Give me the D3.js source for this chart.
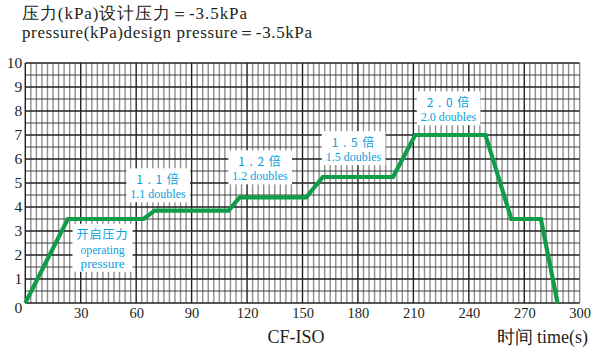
<!DOCTYPE html>
<html>
<head>
<meta charset="utf-8">
<script src="https://cdn.jsdelivr.net/npm/d3@7"></script>
<style>
  body { margin: 0; background: #fff; }
  svg { display: block; }
  text { font-family: "Liberation Serif", "DejaVu Serif", serif; fill: #231f20; }
  .anno text { fill: #0a9fdd; }
  .anno .cn { font-family: "Noto Sans CJK SC", sans-serif; }
</style>
</head>
<body>
<div id="chart"></div>
<script>
// test profile: time (s) -> pressure (kPa)
var times     = [0, 23, 64, 70, 110, 116, 152, 161, 199, 211, 249, 263, 279, 288]
var pressures = [0, 3.5, 3.5, 3.85, 3.85, 4.4, 4.4, 5.25, 5.25, 7, 7, 3.5, 3.5, 0]

var xTicks = [30, 60, 90, 120, 150, 180, 210, 240, 270, 300]
var yTicks = [0, 1, 2, 3, 4, 5, 6, 7, 8, 9, 10]

// callouts: text lines, anchor time and value of the first line
var annoLines = [
  ["开启压力", "operating", "pressure"],
  ["1 . 1 倍", "1.1 doubles"],
  ["1 . 2 倍", "1.2 doubles"],
  ["1 . 5 倍", "1.5 doubles"],
  ["2 . 0 倍", "2.0 doubles"]
]
var annoTime  = [41.8, 71.8, 127, 177.6, 229]
var annoValue = [2.83, 5.14, 5.89, 6.69, 8.35]

var titleCn = "压力(kPa)设计压力＝-3.5kPa"
var titleEn = "pressure(kPa)design pressure＝-3.5kPa"

var width = 600, height = 351
var margin = { top: 63, right: 20.3, bottom: 48, left: 25.3 }

var svg = d3.select("#chart").append("svg")
    .attr("width", width)
    .attr("height", height)

var x = d3.scaleLinear()
    .domain([0, 300])
    .range([margin.left, width - margin.right])

var y = d3.scaleLinear()
    .domain([0, 10])
    .range([height - margin.bottom, margin.top])

var grid = svg.append("g").attr("class", "grid")

// fine vertical lines every 3 s
grid.selectAll(".vminor")
    .data(d3.range(3, 301, 3).filter(function(t){ return t % 30 != 0 || t == 300 }))
  .enter().append("line")
    .attr("x1", function(d){ return x(d) })
    .attr("x2", function(d){ return x(d) })
    .attr("y1", y(0))
    .attr("y2", y(10))
    .attr("stroke", "#8f8f8f")
    .attr("stroke-width", 1.4)

// half-unit horizontal lines
grid.selectAll(".hminor")
    .data(d3.range(0.5, 10, 1))
  .enter().append("line")
    .attr("x1", x(0))
    .attr("x2", x(300))
    .attr("y1", function(d){ return y(d) })
    .attr("y2", function(d){ return y(d) })
    .attr("stroke", "#2a2a2a")
    .attr("stroke-width", 0.9)

// major vertical lines every 30 s
grid.selectAll(".vmajor")
    .data(d3.range(0, 300, 30))
  .enter().append("line")
    .attr("x1", function(d){ return x(d) })
    .attr("x2", function(d){ return x(d) })
    .attr("y1", y(0))
    .attr("y2", y(10))
    .attr("stroke", "#231f20")
    .attr("stroke-width", 1.4)

// integer horizontal lines
grid.selectAll(".hmajor")
    .data(yTicks)
  .enter().append("line")
    .attr("x1", x(0))
    .attr("x2", x(300))
    .attr("y1", function(d){ return y(d) })
    .attr("y2", function(d){ return y(d) })
    .attr("stroke", "#231f20")
    .attr("stroke-width", 1.6)

// axes (labels only)
var xAxis = svg.append("g")
    .attr("transform", "translate(0," + y(0) + ")")
    .call(d3.axisBottom(x).tickValues(xTicks).tickSize(0).tickPadding(5))
xAxis.attr("font-family", null)
xAxis.select(".domain").remove()
xAxis.selectAll("text")
    .attr("font-size", 14.5)
    .attr("fill", null)

var yAxis = svg.append("g")
    .attr("transform", "translate(" + (x(0) - 3) + ",0)")
    .call(d3.axisLeft(y).tickValues(yTicks).tickSize(0).tickPadding(0))
yAxis.attr("font-family", null)
yAxis.select(".domain").remove()
yAxis.selectAll("text")
    .attr("font-size", 15.5)
    .attr("fill", null)
    .attr("dy", function(d){ return d == 0 ? "0.6em" : "0.32em" })
d3.selectAll(".tick line").remove()

// callouts, white boxes behind
var anno = svg.selectAll(".anno")
    .data(annoLines)
  .enter().append("g")
    .attr("class", "anno")
    .attr("transform", function(d, i){ return "translate(" + x(annoTime[i]) + "," + y(annoValue[i]) + ")" })

var bg = anno.append("rect").attr("fill", "#fff")

anno.selectAll("text")
    .data(function(d){ return d })
  .enter().append("text")
    .attr("class", function(d, j){ return j == 0 ? "cn" : "en" })
    .attr("text-anchor", "middle")
    .attr("y", function(d, j){ return j == 0 ? 0 : 1 + j * 13.5 })
    .attr("dy", "0.35em")
    .attr("font-size", function(d, j){ return j == 0 ? 12 : (d.length > 10 ? 12 : 13.5) })
    .attr("letter-spacing", function(d, j){ return j == 0 ? 1 : null })
    .attr("textLength", function(d, j){ return (j > 0 && d.length < 10) ? 44 : null })
    .attr("lengthAdjust", "spacingAndGlyphs")
    .text(function(d){ return d })

bg.each(function(){
  var b = this.parentNode.getBBox()
  d3.select(this)
    .attr("x", b.x - 4)
    .attr("y", b.y - 1.5)
    .attr("width", b.width + 8)
    .attr("height", b.height + 2.5)
})

// the pressure curve
var line = d3.line()
    .x(function(d){ return x(d) })
    .y(function(d, i){ return y(pressures[i]) })

svg.append("path")
    .datum(times)
    .attr("d", line)
    .attr("fill", "none")
    .attr("stroke", "#0f9d4a")
    .attr("stroke-width", 4.2)
    .attr("stroke-linejoin", "miter")

// titles
svg.append("text")
    .attr("x", 22).attr("y", 19)
    .attr("font-size", 17)
    .attr("textLength", 225)
    .text(titleCn)

svg.append("text")
    .attr("x", 22).attr("y", 37.5)
    .attr("font-size", 17)
    .attr("textLength", 290)
    .text(titleEn)

svg.append("text")
    .attr("x", 296).attr("y", 343)
    .attr("text-anchor", "middle")
    .attr("font-size", 18)
    .text("CF-ISO")

svg.append("text")
    .attr("x", 588).attr("y", 343)
    .attr("text-anchor", "end")
    .attr("font-size", 18)
    .text("时间 time(s)")
</script>
</body>
</html>
